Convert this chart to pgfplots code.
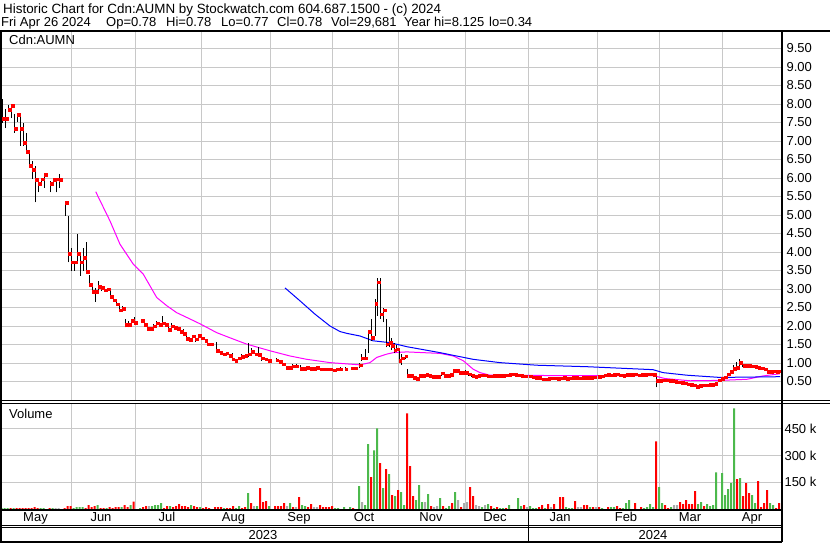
\documentclass[border=0pt]{standalone}
\usepackage{pgfplots}
\pgfplotsset{compat=1.18}
\usepackage{pgfplotstable}
\usepackage{fontspec}
\setmainfont{Liberation Sans}
\definecolor{gridgray}{RGB}{200,200,200}
\definecolor{vgreen}{RGB}{76,185,76}
\definecolor{vgray}{RGB}{170,170,170}
\definecolor{mag}{RGB}{255,0,255}
\definecolor{mablue}{RGB}{0,0,255}
\newcommand{\fs}{\fontsize{13pt}{15pt}\selectfont}

\pgfplotstableread{
x lo hi cl
2.7 7.49 8.14 7.61
5.7 7.35 7.87 7.61
8.3 7.84 7.98 7.85
11.3 7.62 7.98 7.96
14.3 7.22 7.73 7.34
17.3 7.51 7.73 7.71
20.3 6.87 7.73 7.34
23.3 6.87 7.50 6.96
26.3 6.69 7.23 6.71
29.3 6.33 6.65 6.33
32.3 5.98 6.46 6.22
35.3 5.34 6.33 5.95
38.3 5.61 5.92 5.85
41.3 5.80 6.00 5.97
44.3 5.74 6.11 6.09
50.3 5.61 5.92 5.85
53.3 5.85 6.00 5.96
56.3 5.61 6.00 5.97
59.3 5.73 6.12 5.96
65.7 4.98 5.36 5.34
68.3 3.72 4.98 3.96
71.3 3.49 4.12 3.72
74.3 3.49 3.72 3.72
77.3 3.72 4.48 3.96
80.3 3.36 3.94 3.72
83.3 3.49 4.11 3.85
86.3 3.49 4.26 3.47
89.3 3.09 3.38 3.11
92.3 2.91 3.13 2.93
95.3 2.65 3.04 2.93
98.3 2.95 3.22 3.07
101.3 2.95 3.10 3.04
104.3 2.95 3.00 2.97
107.3 2.95 3.02 3.00
110.3 2.79 2.97 2.79
113.3 2.67 2.79 2.70
116.3 2.55 2.65 2.59
119.3 2.41 2.55 2.43
122.3 2.41 2.55 2.47
125.3 1.96 2.19 2.03
128.3 1.96 2.14 2.03
131.3 2.10 2.19 2.14
134.3 2.03 2.23 2.09
141.3 2.10 2.16 2.14
144.3 1.99 2.10 2.03
147.3 1.91 1.98 1.93
150.3 1.91 1.98 1.93
153.3 1.96 2.05 2.00
156.3 2.05 2.13 2.08
159.3 2.00 2.10 2.03
162.3 2.00 2.27 2.08
165.3 2.00 2.08 2.03
168.3 1.88 2.00 1.90
171.3 1.96 2.07 2.00
174.3 1.94 2.00 1.96
177.3 1.91 1.98 1.93
180.3 1.80 1.88 1.85
183.3 1.74 1.91 1.80
186.3 1.64 1.72 1.66
189.3 1.60 1.68 1.63
192.3 1.66 1.75 1.72
195.3 1.58 1.68 1.64
198.3 1.67 1.76 1.74
201.7 1.64 1.70 1.67
205.0 1.57 1.65 1.60
207.3 1.46 1.64 1.51
210.7 1.48 1.55 1.51
216.7 1.33 1.58 1.33
220.0 1.24 1.33 1.28
223.3 1.22 1.28 1.24
226.0 1.22 1.30 1.26
229.3 1.17 1.24 1.19
232.0 1.08 1.26 1.10
235.0 1.04 1.10 1.06
238.3 1.10 1.17 1.13
241.7 1.15 1.24 1.17
245.0 1.17 1.22 1.19
248.3 1.17 1.55 1.24
251.7 1.26 1.40 1.31
255.0 1.20 1.28 1.24
258.3 1.17 1.42 1.22
261.7 1.06 1.17 1.13
265.0 1.06 1.13 1.10
268.3 1.04 1.10 1.06
276.0 1.04 1.13 1.08
279.3 1.02 1.08 1.04
282.7 0.92 1.06 0.97
286.0 0.85 0.92 0.88
289.3 0.85 0.92 0.88
292.7 0.88 0.96 0.91
296.0 0.88 0.96 0.91
300.0 0.81 0.94 0.85
303.3 0.83 0.88 0.85
306.7 0.85 0.92 0.88
310.0 0.83 0.88 0.85
313.3 0.83 0.88 0.85
316.7 0.83 0.92 0.88
320.0 0.80 0.86 0.83
323.3 0.80 0.86 0.83
326.7 0.80 0.86 0.83
330.0 0.80 0.86 0.83
333.3 0.78 0.85 0.81
336.7 0.80 0.86 0.83
340.0 0.80 0.88 0.83
345.0 0.80 0.88 0.83
351.7 0.83 0.88 0.86
355.0 0.83 0.90 0.86
359.3 0.86 1.00 0.94
361.7 1.06 1.24 1.13
365.0 1.10 1.38 1.13
368.3 1.28 1.87 1.85
371.7 1.60 2.19 1.69
375.0 1.74 2.73 2.61
377.3 2.28 3.31 3.18
380.7 2.20 3.30 2.32
383.3 2.10 2.50 2.43
386.0 1.42 2.19 1.51
389.3 1.42 1.96 1.55
391.7 1.35 1.67 1.46
394.0 1.28 1.55 1.35
396.7 1.30 1.48 1.37
399.0 1.00 1.35 1.06
401.7 0.95 1.24 1.13
405.0 1.10 1.20 1.18
407.3 0.61 0.84 0.65
410.4 0.60 0.68 0.65
413.5 0.58 0.65 0.61
416.6 0.56 0.62 0.58
419.7 0.60 0.68 0.65
422.7 0.62 0.68 0.65
425.8 0.64 0.70 0.68
428.9 0.62 0.68 0.65
432.0 0.60 0.66 0.63
435.0 0.60 0.66 0.63
438.1 0.60 0.66 0.63
441.2 0.66 0.74 0.72
444.3 0.62 0.70 0.65
447.3 0.62 0.68 0.65
450.4 0.64 0.70 0.68
453.5 0.72 0.82 0.79
456.6 0.75 0.81 0.79
459.6 0.72 0.78 0.74
462.7 0.72 0.77 0.74
465.8 0.70 0.80 0.74
468.9 0.66 0.72 0.70
471.9 0.62 0.67 0.65
475.0 0.61 0.66 0.63
478.1 0.62 0.67 0.65
481.2 0.64 0.69 0.67
484.2 0.64 0.70 0.67
487.3 0.61 0.67 0.64
490.4 0.61 0.66 0.64
493.5 0.62 0.68 0.65
496.5 0.63 0.69 0.66
499.6 0.62 0.67 0.65
502.7 0.63 0.69 0.66
505.8 0.64 0.70 0.67
508.8 0.65 0.71 0.68
511.9 0.67 0.73 0.70
515.0 0.66 0.72 0.69
518.1 0.64 0.70 0.67
521.1 0.62 0.67 0.65
524.2 0.61 0.66 0.64
529.5 0.61 0.66 0.64
532.6 0.59 0.64 0.62
535.7 0.58 0.63 0.61
538.7 0.57 0.62 0.60
541.8 0.53 0.59 0.56
544.9 0.53 0.58 0.56
548.0 0.55 0.60 0.58
551.0 0.56 0.61 0.59
554.1 0.56 0.62 0.59
557.2 0.55 0.60 0.58
560.3 0.56 0.61 0.59
563.3 0.57 0.62 0.60
566.4 0.55 0.60 0.58
569.5 0.56 0.61 0.59
572.6 0.58 0.64 0.61
575.6 0.57 0.62 0.60
578.7 0.56 0.61 0.59
581.8 0.57 0.62 0.60
584.9 0.58 0.63 0.61
587.9 0.58 0.64 0.61
591.0 0.57 0.62 0.60
594.1 0.59 0.65 0.62
598.2 0.60 0.66 0.63
601.3 0.61 0.67 0.64
604.4 0.64 0.70 0.67
607.4 0.65 0.72 0.68
610.5 0.64 0.69 0.67
613.6 0.66 0.72 0.69
616.7 0.67 0.74 0.70
619.7 0.64 0.69 0.67
622.8 0.63 0.68 0.66
625.9 0.65 0.70 0.68
629.0 0.65 0.71 0.68
632.0 0.66 0.72 0.69
635.1 0.67 0.73 0.70
638.2 0.64 0.70 0.67
641.3 0.65 0.70 0.68
644.3 0.66 0.72 0.69
647.4 0.67 0.73 0.70
650.5 0.67 0.72 0.70
653.6 0.66 0.71 0.69
656.7 0.34 0.71 0.52
659.8 0.49 0.55 0.52
662.8 0.51 0.57 0.54
665.9 0.50 0.56 0.53
669.0 0.49 0.55 0.52
672.1 0.49 0.55 0.52
675.1 0.47 0.53 0.50
678.2 0.45 0.51 0.48
681.3 0.44 0.50 0.47
684.4 0.42 0.48 0.45
687.4 0.40 0.46 0.43
690.5 0.38 0.44 0.41
693.6 0.37 0.43 0.40
696.7 0.34 0.40 0.36
699.7 0.36 0.42 0.39
702.8 0.37 0.43 0.40
705.9 0.37 0.43 0.40
709.0 0.38 0.44 0.41
712.0 0.39 0.45 0.42
715.1 0.40 0.50 0.44
718.2 0.48 0.58 0.53
721.3 0.53 0.63 0.58
724.3 0.57 0.66 0.62
727.4 0.62 0.74 0.70
730.5 0.70 0.82 0.76
733.5 0.75 0.95 0.85
736.6 0.78 1.02 0.88
739.7 0.92 1.10 1.01
742.8 0.88 1.05 0.92
745.8 0.89 0.97 0.93
748.9 0.88 0.96 0.92
752.0 0.87 0.95 0.91
755.1 0.86 0.93 0.90
758.1 0.84 0.92 0.88
761.2 0.82 0.90 0.86
764.3 0.79 0.88 0.83
767.4 0.73 0.84 0.76
770.4 0.74 0.80 0.77
773.5 0.75 0.80 0.78
776.6 0.74 0.79 0.77
779.6 0.77 0.78 0.78
}\price

\pgfplotstableread{
x v
10.7 5.6
16.7 5.6
19.7 5.6
22.7 5.6
25.7 5.6
28.7 5.6
31.7 5.6
34.7 11.2
37.7 5.6
49.7 5.6
64.7 5.6
67.7 16.7
70.7 16.7
85.7 5.6
88.7 22.3
91.7 11.2
94.7 16.7
100.7 5.6
103.7 5.6
109.7 11.2
112.7 5.6
115.7 11.2
118.7 11.2
124.7 22.3
127.7 11.2
133.7 41
143 11.2
146 16.7
164 5.6
167 16.7
173 11.2
176 16.7
179 27.9
182 16.7
185 16.7
188 11.2
194 16.7
197 11.2
203 5.6
206 11.2
209 5.6
215 11.2
218 11.2
221 11.2
227 5.6
230 5.6
233 16.7
242 5.6
245 11.2
251 33.5
260 117
263 39
266 44.6
275 16.7
278 16.7
281 16.7
284 33.5
293 11.2
299 67
308 11.2
311 27.9
320 22.3
323 11.2
326 11.2
329 11.2
332 16.7
353 5.6
371 179
380 257
386 223
392 78
398 106
407 536
410 240
413 72.5
431 16.7
443 16.7
452 33.5
461 11.2
470 123
473 72.5
491 16.7
497 11.2
506 5.6
524 22.3
539 11.2
542 22.3
548 27.9
554 27.9
560 67
563 67
575 44.6
584 22.3
587 22.3
593 11.2
599 11.2
608 11.2
617 16.7
620 5.6
635 33.5
641 11.2
656 379
665 22.3
668 5.6
680 39
683 27.9
686 50
689 27.9
692 27.9
695 100
704 16.7
737 167
743 72.5
746 145
749 89
758 156
761 11.2
764 33.5
767 106
776 5.6
779 33.5
}\volred

\pgfplotstableread{
x v
1.7 5.6
4.7 5.6
7.7 5.6
13.7 5.6
40.7 5.6
43.7 5.6
52.7 5.6
73.7 5.6
76.7 11.2
79.7 11.2
82.7 11.2
97.7 22.3
106.7 5.6
121.7 11.2
130.7 22.3
140 5.6
152 16.7
155 22.3
158 22.3
161 33.5
170 16.7
191 22.3
200 11.2
224 5.6
236 5.6
239 16.7
248 89
257 16.7
269 16.7
290 33.5
302 22.3
305 16.7
335 5.6
338 5.6
344 11.2
350 11.2
359 128
365 22.3
368 363
374 329
377 452
383 117
389 195
395 72.5
401 95
404 22.3
416 50
419 134
422 39
428 84
440 61
446 5.6
449 16.7
455 95
482 11.2
488 27.9
494 5.6
500 5.6
503 5.6
509 22.3
518 61
521 16.7
530 16.7
533 5.6
536 5.6
545 5.6
566 11.2
569 5.6
572 5.6
590 11.2
602 5.6
611 11.2
614 11.2
623 5.6
626 33.5
629 50
644 5.6
647 11.2
650 27.9
653 11.2
659 123
662 33.5
671 11.2
698 27.9
701 39
707 27.9
710 16.7
713 22.3
716 206
722 201
725 78
728 112
731 145
734 564
740 173
752 78
755 33.5
770 33.5
773 22.3
}\volgreen

\pgfplotstableread{
x v
55.7 5.6
58.7 5.6
149 16.7
254 16.7
287 16.7
296 11.2
314 11.2
317 11.2
362 39
425 39
434 11.2
437 16.7
458 50
464 33.5
467 39
476 22.3
479 16.7
485 22.3
527 11.2
551 11.2
578 11.2
581 11.2
596 11.2
674 22.3
677 22.3
}\volgray

\pgfplotsset{
  chartbase/.style={
    scale only axis, width=782pt, xmin=0, xmax=782,
    enlargelimits=false, clip=true,
    axis line style={draw=none}, major tick length=0pt,
    grid=major, major grid style={gridgray, line width=1pt},
    tick label style={font=\fs},
    xtick={71.5,135,201,270,332.5,398,465,528,597,659,722.6},
    yticklabel pos=right,
    yticklabel style={anchor=west},
  }
}

\begin{document}
\begin{tikzpicture}
\useasboundingbox (0pt,0pt) rectangle (830pt,-543pt);
\fill[white] (0pt,0pt) rectangle (830pt,-543pt);

% price panel
\begin{axis}[chartbase, at={(0pt,-400pt)}, anchor=south west,
  height=368.5pt, ymin=0, ymax=9.96,
  xticklabels={,,,,,,,,,,},
  ytick={0.5,1,1.5,2,2.5,3,3.5,4,4.5,5,5.5,6,6.5,7,7.5,8,8.5,9,9.5},
  yticklabels={0.50,1.00,1.50,2.00,2.50,3.00,3.50,4.00,4.50,5.00,5.50,6.00,6.50,7.00,7.50,8.00,8.50,9.00,9.50},
  yticklabel style={xshift=1pt}]
\addplot[mag, line width=1pt] coordinates {
(95.7,5.63) (110,4.84) (120,4.21) (133.3,3.67) (143.3,3.40) (156.7,2.77)
(166.7,2.55) (176.7,2.36) (190,2.19) (200,2.06) (216.7,1.82) (233,1.65)
(246.7,1.51) (270,1.33) (290,1.19) (306.7,1.10) (330,1.01) (350,0.97)
(360,0.95) (370,1.01) (376.7,1.15) (386.7,1.24) (393.3,1.28) (406.7,1.30)
(440,1.26) (453.3,1.19) (463.3,1.06) (473.3,0.83) (480,0.74) (490,0.67)
(560,0.66) (653,0.66) (665,0.58) (690,0.52) (720,0.53) (747,0.56)
(763,0.65) (780,0.71)};
\addplot[mablue, line width=1pt] coordinates {
(285,3.03) (300,2.68) (315,2.32) (330,2.00) (340,1.85) (347,1.80)
(360,1.73) (373,1.60) (390,1.55) (407,1.44) (440,1.28) (473,1.10)
(500,1.01) (537,0.94) (587,0.90) (653,0.82) (663,0.74) (687,0.67)
(720,0.61) (780,0.63)};
\addplot[draw=none, mark=none,
  error bars/.cd, y dir=plus, y explicit, error mark=none,
  error bar style={draw=black, line width=1pt}]
  table[x=x, y=lo, y error plus expr=\thisrow{hi}-\thisrow{lo}] {\price};
\addplot[only marks, mark=square*, mark size=1.3pt, red, mark options={draw=red, fill=red}]
  table[x expr=\thisrow{x}+1.2, y=cl] {\price};
\end{axis}

% volume panel
\begin{axis}[chartbase, at={(0pt,-509pt)}, anchor=south west,
  height=106.5pt, ymin=0, ymax=597,
  xticklabels={,,,,,,,,,,},
  extra x ticks={35.5,101,167,233.5,299,364,431,495,560,626,690,752},
  extra x tick labels={May,Jun,Jul,Aug,Sep,Oct,Nov,Dec,Jan,Feb,Mar,Apr},
  extra x tick style={grid=none, tick label style={font=\fs}},
  ytick={150,300,450},
  yticklabels={150 k,300 k,450 k},
  yticklabel style={xshift=-1pt}]
\addplot[ybar, bar width=2, bar shift=0pt, fill=red, draw=none] table[x=x,y=v] {\volred};
\addplot[ybar, bar width=2, bar shift=0pt, fill=vgreen, draw=none] table[x=x,y=v] {\volgreen};
\addplot[ybar, bar width=2, bar shift=0pt, fill=vgray, draw=none] table[x=x,y=v] {\volgray};
\end{axis}

% frames
\draw[line width=2pt] (0pt,-31.5pt) -- (830pt,-31.5pt);
\draw[line width=2pt] (1pt,-31.5pt) -- (1pt,-542pt);
\draw[line width=2pt] (782pt,-31.5pt) -- (782pt,-542pt);
\draw[line width=1pt] (0pt,-400pt) -- (830pt,-400pt);
\draw[line width=1pt] (0pt,-403pt) -- (830pt,-403pt);
\draw[line width=2pt] (0pt,-509.5pt) -- (782pt,-509.5pt);
\draw[line width=1pt] (0pt,-525.7pt) -- (782pt,-525.7pt);
\draw[line width=1pt] (0pt,-527.9pt) -- (782pt,-527.9pt);
\draw[line width=2pt] (0pt,-541.8pt) -- (782pt,-541.8pt);
\draw[line width=1pt] (528pt,-509.5pt) -- (528pt,-541.8pt);

% texts
\node[anchor=base west, inner sep=0pt, font=\fontsize{13.4pt}{15pt}\selectfont] at (3pt,-13.3pt) {Historic Chart for Cdn:AUMN by Stockwatch.com 604.687.1500 - (c) 2024};
\node[anchor=base west, inner sep=0pt, font=\fs] at (1pt,-26.7pt) {Fri Apr 26 2024};
\node[anchor=base west, inner sep=0pt, font=\fs] at (106pt,-26.7pt) {Op=0.78};
\node[anchor=base west, inner sep=0pt, font=\fs] at (166pt,-26.7pt) {Hi=0.78};
\node[anchor=base west, inner sep=0pt, font=\fs] at (221pt,-26.7pt) {Lo=0.77};
\node[anchor=base west, inner sep=0pt, font=\fs] at (277pt,-26.7pt) {Cl=0.78};
\node[anchor=base west, inner sep=0pt, font=\fs] at (331pt,-26.7pt) {Vol=29,681};
\node[anchor=base west, inner sep=0pt, font=\fs] at (404pt,-26.7pt) {Year hi=8.125};
\node[anchor=base west, inner sep=0pt, font=\fs] at (489pt,-26.7pt) {lo=0.34};
\node[anchor=base west, inner sep=0pt, font=\fs] at (9pt,-45pt) {Cdn:AUMN};
\node[anchor=base west, inner sep=0pt, font=\fs] at (9pt,-418pt) {Volume};
\node[anchor=base, inner sep=0pt, font=\fs] at (263pt,-539.5pt) {2023};
\node[anchor=base, inner sep=0pt, font=\fs] at (653pt,-539.5pt) {2024};
\end{tikzpicture}
\end{document}
